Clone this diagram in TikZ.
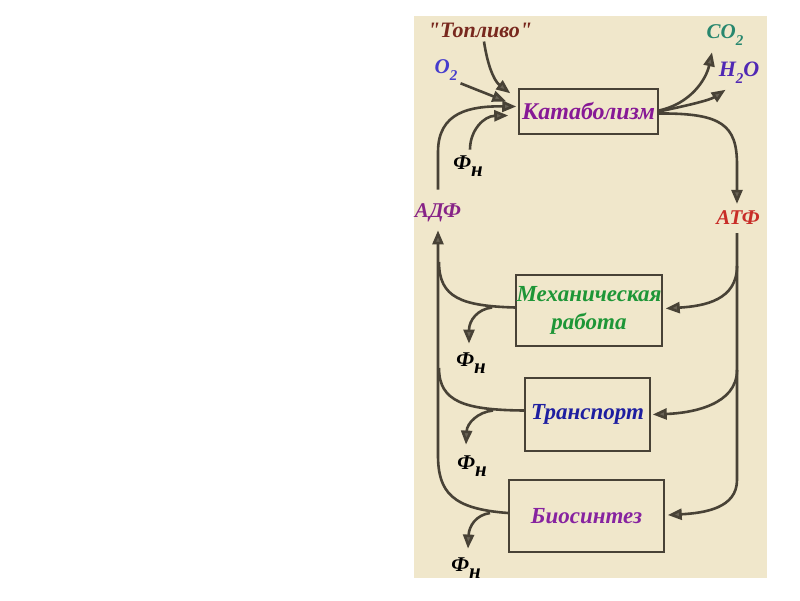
\documentclass[tikz,border=0pt]{standalone}
\usepackage{fontspec}
\setmainfont{Liberation Serif}[Ligatures=TeXOff]
\usetikzlibrary{arrows.meta,calc}
\definecolor{paper}{RGB}{240,231,203}
\definecolor{ink}{RGB}{72,66,54}
\definecolor{tipfill}{RGB}{105,99,86}
\definecolor{cfuel}{RGB}{120,40,30}
\definecolor{cco}{RGB}{40,135,110}
\definecolor{coo}{RGB}{70,60,205}
\definecolor{chho}{RGB}{80,40,180}
\definecolor{ccat}{RGB}{135,25,150}
\definecolor{cadf}{RGB}{135,35,135}
\definecolor{catf}{RGB}{200,45,40}
\definecolor{cmech}{RGB}{30,150,55}
\definecolor{ctrans}{RGB}{30,30,160}
\definecolor{cbio}{RGB}{135,35,160}
\newcommand{\Fn}{Ф\raisebox{-0.32em}{н}}
\newcommand{\subtwo}{\raisebox{-0.3em}{\fontsize{15}{16}\selectfont 2}}
\begin{document}
\begin{tikzpicture}[x=1pt,y=-1pt,
  lbl/.style={font=\fontsize{21}{24}\selectfont\bfseries\itshape, inner sep=0pt},
  box/.style={draw=ink, line width=1.5pt, font=\fontsize{23}{28}\selectfont\bfseries\itshape, inner sep=0pt, align=center},
  arr/.style={draw=ink, line width=2.6pt, -{Triangle[length=14pt,width=11pt,fill=tipfill]}},
  ln/.style={draw=ink, line width=2.6pt},
]
\fill[white] (0,0) rectangle (800,600);
\useasboundingbox (0,0) rectangle (800,600);
\fill[paper] (414,16) rectangle (767,578);

% boxes
\node[box, minimum width=139pt, minimum height=45pt, text=ccat, font=\fontsize{24}{28}\selectfont\bfseries\itshape] (cat) at (588.5,111.5) {Катаболизм};
\node[box, minimum width=146pt, minimum height=71pt, text=cmech] (mech) at (589,310.5) {Механическая\\работа};
\node[box, minimum width=125pt, minimum height=73pt, text=ctrans] (trans) at (587.5,414.5) {Транспорт};
\node[box, minimum width=155pt, minimum height=72pt, text=cbio] (bio) at (586.5,516) {Биосинтез};

% labels
\node[lbl, text=cfuel, font=\fontsize{22}{24}\selectfont\bfseries\itshape] (fuel) at (480,30) {"Топливо"};
\node[lbl, text=cco] (co2) at (725,35) {CO\subtwo};
\node[lbl, text=coo] (o2) at (446,70) {O\subtwo};
\node[lbl, text=chho, font=\fontsize{22}{24}\selectfont\bfseries\itshape] (h2o) at (739,73) {H\subtwo O};
\node[lbl] (fn1) at (468,166) {\Fn};
\node[lbl, text=cadf] (adf) at (438,213) {АДФ};
\node[lbl, text=catf] (atf) at (738,218) {АТФ};
\node[lbl] (fn2) at (471,363) {\Fn};
\node[lbl] (fn3) at (472,466) {\Fn};
\node[lbl] (fn4) at (466,568) {\Fn};

% junction points
\coordinate (rm) at (737,266);
\coordinate (rt) at (737,370);
\coordinate (lm) at (439,262);
\coordinate (lt) at (439,368);
\coordinate (jm) at (492,307.5);
\coordinate (jt) at (493,410.5);
\coordinate (jb) at (490,513);

% inputs to catabolism
\draw[arr] ($(fuel.south)+(4,4)$) .. controls (487,62) and (493,80) .. ($(cat.north west)+(-8,5)$);
\draw[arr] ($(o2.south east)+(3,3)$) -- ($(cat.west)+(-12,-10)$);
\draw[arr] ($(adf.north)+(0,-14)$) -- (438,152) .. controls (438,112) and (470,106) .. ($(cat.west)+(-2,-5)$);
\draw[arr] ($(fn1.north)+(2,-6)$) .. controls (470,130) and (484,116) .. ($(cat.west)+(-10,4)$);

% outputs of catabolism
\draw[arr] ($(cat.east)+(0,-1)$) .. controls (690,104) and (706,80) .. ($(co2.south)+(-13,7)$);
\draw[arr] ($(cat.east)+(0,0)$) .. controls (690,105) and (710,100) .. ($(h2o.south west)+(7,6)$);
\draw[arr] ($(cat.east)+(0,2)$) .. controls (722,113) and (737,125) .. (737,165) -- ($(atf.north)+(-1,-7)$);

% ATP distribution (right)
\draw[arr] ($(atf.south)+(-1,8)$) -- (737,480) .. controls (737,508) and (705,513) .. ($(bio.east)+(3,-1)$);
\draw[arr] (rm) .. controls (737,300) and (705,306) .. ($(mech.east)+(3,-2)$);
\draw[arr] (rt) .. controls (737,405) and (692,413) .. ($(trans.east)+(2,0)$);

% ADP return (left)
\draw[arr] ($(bio.west)+(0,-3)$) .. controls (452,509) and (438,492) .. (438,455) -- ($(adf.south)+(0,8)$);
\draw[ln] ($(mech.west)+(0,-3)$) .. controls (462,306) and (439,298) .. (lm);
\draw[ln] ($(trans.west)+(0,-4)$) .. controls (465,410) and (439,402) .. (lt);

% phosphate branches
\draw[arr] (jm) .. controls (478,309) and (469,320) .. ($(fn2.north)+(-2,-9)$);
\draw[arr] (jt) .. controls (478,412) and (467,423) .. ($(fn3.north)+(-6,-11)$);
\draw[arr] (jb) .. controls (476,515) and (469,526) .. ($(fn4.north)+(2,-9)$);
\end{tikzpicture}
\end{document}
